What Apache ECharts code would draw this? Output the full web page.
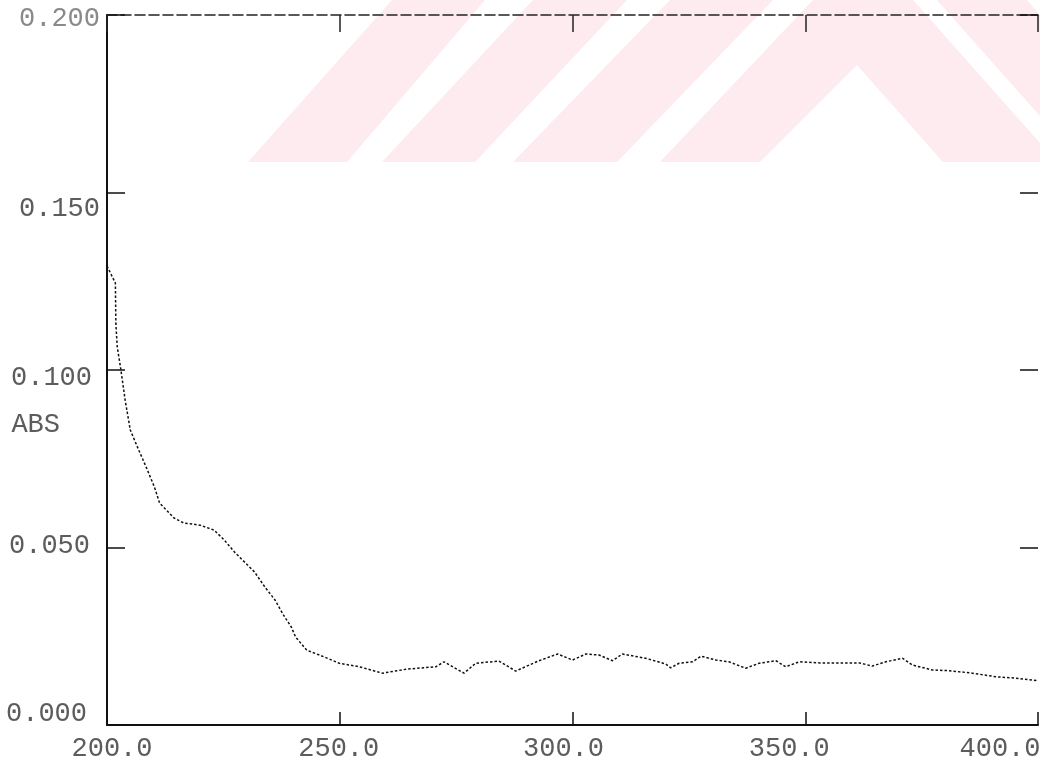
<!DOCTYPE html>
<html>
<head>
<meta charset="utf-8">
<script src="https://cdn.jsdelivr.net/npm/echarts/dist/echarts.min.js"></script>
<style>
html,body{margin:0;padding:0;background:#ffffff;}
#chart{width:1040px;height:766px;}
</style>
</head>
<body>
<div id="chart"></div>
<script>
// ---- data ----
const wavelengths = [200.0, 201.8, 201.9, 202.2, 202.9, 203.9, 205.0, 206.8, 208.4, 210.2,
  211.3, 214.4, 216.5, 220.0, 223.0, 225.2, 227.4, 228.7, 231.7, 233.9,
  236.1, 237.9, 239.6, 240.5, 242.9, 246.6, 249.9, 254.2, 259.2, 264.2,
  270.6, 272.4, 276.7, 279.2, 284.2, 287.8, 292.8, 296.8, 300.0, 302.9,
  305.7, 308.6, 310.7, 315.7, 320.0, 321.1, 322.9, 325.8, 327.6, 330.8,
  333.6, 337.2, 340.1, 343.7, 345.8, 348.7, 353.0, 357.3, 361.6, 364.4,
  367.3, 370.9, 373.0, 377.3, 380.9, 385.9, 390.9, 395.2, 400.0];
const absorbance = [0.1293, 0.1245, 0.1132, 0.1065, 0.1008, 0.0915, 0.0831, 0.0775, 0.0727, 0.0670,
  0.0625, 0.0583, 0.0569, 0.0563, 0.0549, 0.0521, 0.0487, 0.0470, 0.0431, 0.0389,
  0.0352, 0.0310, 0.0276, 0.0248, 0.0211, 0.0192, 0.0174, 0.0164, 0.0146, 0.0157,
  0.0164, 0.0178, 0.0146, 0.0174, 0.0180, 0.0152, 0.0181, 0.0200, 0.0183, 0.0200,
  0.0197, 0.0181, 0.0200, 0.0188, 0.0172, 0.0161, 0.0174, 0.0178, 0.0194, 0.0183,
  0.0178, 0.0160, 0.0174, 0.0181, 0.0164, 0.0178, 0.0175, 0.0175, 0.0175, 0.0166,
  0.0178, 0.0188, 0.0169, 0.0155, 0.0153, 0.0146, 0.0136, 0.0132, 0.0125];
const xTickLabels = ['200.0', '250.0', '300.0', '350.0', '400.0'];
const yTickLabels = ['0.000', '0.050', '0.100', '0.150', '0.200'];
const yAxisTitle = 'ABS';

// ---- background watermark (decoration only) ----
const watermarkShapes = [
  [[248,162],[392,0],[485,0],[347,162]],
  [[382,162],[533,0],[627,0],[475,162]],
  [[513,162],[670,0],[773,0],[617,162]],
  [[660,162],[813,0],[913,0],[1040,143],[1040,162],[943,162],[857,65],[760,162]],
  [[937,0],[1027,0],[1040,15],[1040,116]]
];

const chart = echarts.init(document.getElementById('chart'), null, {renderer: 'canvas'});

const font = {fontFamily: 'Liberation Mono', fontSize: 27, color: '#5c5c5c'};
const xRich = {
  x0: Object.assign({}, font, {padding: [0, 0, 0, 10]}),
  x1: Object.assign({}, font, {padding: [0, 2, 0, 0]}),
  x2: Object.assign({}, font, {padding: [0, 18, 0, 0]}),
  x3: Object.assign({}, font, {padding: [0, 32, 0, 0]}),
  x4: Object.assign({}, font, {padding: [0, 76, 0, 0]})
};
const yRich = {
  y0: Object.assign({}, font, {padding: [0, 13, 22, 0]}),
  y1: Object.assign({}, font, {padding: [0, 10, 3, 0]}),
  y2: Object.assign({}, font, {padding: [16, 8, 0, 0]}),
  y3: Object.assign({}, font, {padding: [33, 0, 0, 0]}),
  y4: Object.assign({}, font, {padding: [8, 0, 0, 0], color: '#8a8a8a'})
};

const seriesData = wavelengths.map((w, i) => [w, absorbance[i]]);

const option = {
  animation: false,
  backgroundColor: '#ffffff',
  grid: {left: 107, right: 2, top: 15, bottom: 41, containLabel: false, outerBoundsMode: 'none'},
  graphic: {
    elements: watermarkShapes.map(pts => ({
      type: 'polygon', silent: true, z: -10,
      shape: {points: pts},
      style: {fill: '#fdebef'}
    }))
  },
  xAxis: [
    {
      type: 'value', min: 200, max: 400, interval: 50, position: 'bottom',
      axisLine: {show: true, onZero: false, lineStyle: {color: '#111', width: 2}},
      axisTick: {show: true, inside: true, length: 13, lineStyle: {color: '#111', width: 1.5}},
      axisLabel: {
        margin: 10,
        formatter: v => { const i = Math.round((v - 200) / 50); return '{x' + i + '|' + xTickLabels[i] + '}'; },
        rich: xRich
      },
      splitLine: {show: false}
    },
    {
      type: 'value', min: 200, max: 400, interval: 50, position: 'top',
      axisLine: {show: true, onZero: false, lineStyle: {color: '#222', width: 1.5, type: [10, 4]}},
      axisTick: {show: true, inside: true, length: 17, lineStyle: {color: '#222', width: 1.5}},
      axisLabel: {show: false},
      splitLine: {show: false}
    }
  ],
  yAxis: [
    {
      type: 'value', min: 0, max: 0.2, interval: 0.05, position: 'left',
      name: '{n|' + yAxisTitle + '}', nameLocation: 'middle', nameRotate: 0, nameGap: 47,
      nameMoveOverlap: false,
      nameTextStyle: {
        rich: {n: {fontFamily: 'Liberation Mono', fontSize: 27, color: '#5c5c5c', padding: [110, 0, 0, 0]}}
      },
      axisLine: {show: true, onZero: false, lineStyle: {color: '#111', width: 2}},
      axisTick: {show: true, inside: true, length: 18, lineStyle: {color: '#111', width: 1.5}},
      axisLabel: {
        margin: 7,
        formatter: v => { const i = Math.round(v / 0.05); return '{y' + i + '|' + yTickLabels[i] + '}'; },
        rich: yRich
      },
      splitLine: {show: false}
    },
    {
      type: 'value', min: 0, max: 0.2, interval: 0.05, position: 'right',
      axisLine: {show: false},
      axisTick: {show: true, inside: true, length: 18, lineStyle: {color: '#111', width: 1.5}},
      axisLabel: {show: false},
      splitLine: {show: false}
    }
  ],
  series: [{
    type: 'line',
    data: seriesData,
    showSymbol: false,
    smooth: false,
    lineStyle: {color: '#111', width: 1.5, type: [2.5, 2]}
  }]
};
chart.setOption(option);
</script>
</body>
</html>
